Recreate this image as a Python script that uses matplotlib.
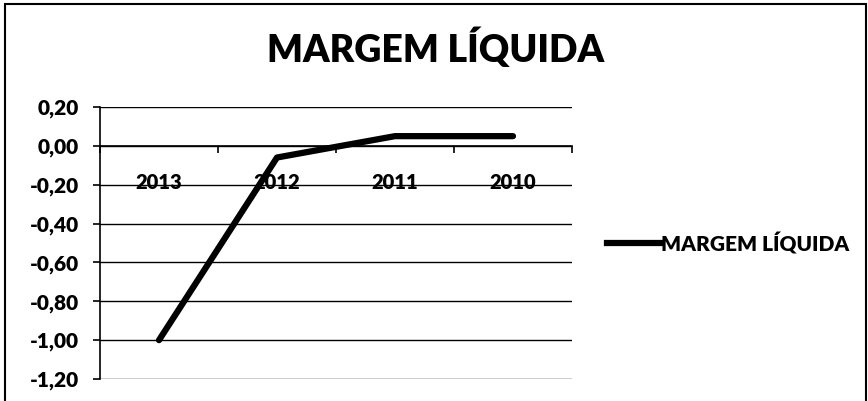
import numpy as np
import matplotlib
matplotlib.use("Agg")
import matplotlib.pyplot as plt
from matplotlib.patches import Rectangle

plt.rcParams['font.family'] = ['Lato', 'DejaVu Sans']

# data
anos = ["2013", "2012", "2011", "2010"]
margem = [-1.00, -0.06, 0.05, 0.05]
yticks = [0.20, 0.00, -0.20, -0.40, -0.60, -0.80, -1.00, -1.20]

fig = plt.figure(figsize=(8.68, 4.01), dpi=100)
W, H = 868., 401.
ax = fig.add_axes([100/W, 1-379/H, 472/W, 272/H])

x = np.arange(len(anos))
ax.plot(x, margem, color='black', lw=4.5, solid_capstyle='round', solid_joinstyle='round', zorder=5)

ax.set_xlim(-0.5, len(anos)-0.5)
ax.set_ylim(-1.2, 0.2)
ax.set_yticks(yticks)
ax.set_yticklabels([("%.2f" % v).replace('.', ',') for v in yticks], fontsize=15, fontweight='heavy')
ax.yaxis.grid(True, color='black', lw=1.0)
ax.set_axisbelow(True)

for s in ['top', 'right']:
    ax.spines[s].set_visible(False)
ax.spines['left'].set_linewidth(1.2)
ax.spines['bottom'].set_position(('data', 0))
ax.spines['bottom'].set_linewidth(1.2)
ax.set_xticks(np.arange(len(anos)+1) - 0.5)
ax.set_xticklabels([])
ax.tick_params(axis='x', direction='out', length=5, width=1.2)
ax.tick_params(axis='y', direction='out', length=5, width=1.2, pad=10)

for xi, lab in zip(x, anos):
    ax.text(xi, -0.19, lab, ha='center', va='center', fontsize=14.5, fontweight='heavy')

fig.text(436/W, 1-48/H, "MARGEM LÍQUIDA", ha='center', va='center', fontsize=27, fontweight='heavy')

# legend
fig.add_artist(plt.Line2D([607/W, 660/W], [1-243/H, 1-243/H], color='black', lw=4.5))
fig.text(661/W, 1-243/H, "MARGEM LÍQUIDA", ha='left', va='center', fontsize=15, fontweight='heavy')

# chart frame
fig.add_artist(Rectangle((5/W, -0.05), 861/W, 1.05 - 4/H, transform=fig.transFigure,
                         fill=False, edgecolor='black', lw=1.5))

fig.savefig("out.png", dpi=100)
